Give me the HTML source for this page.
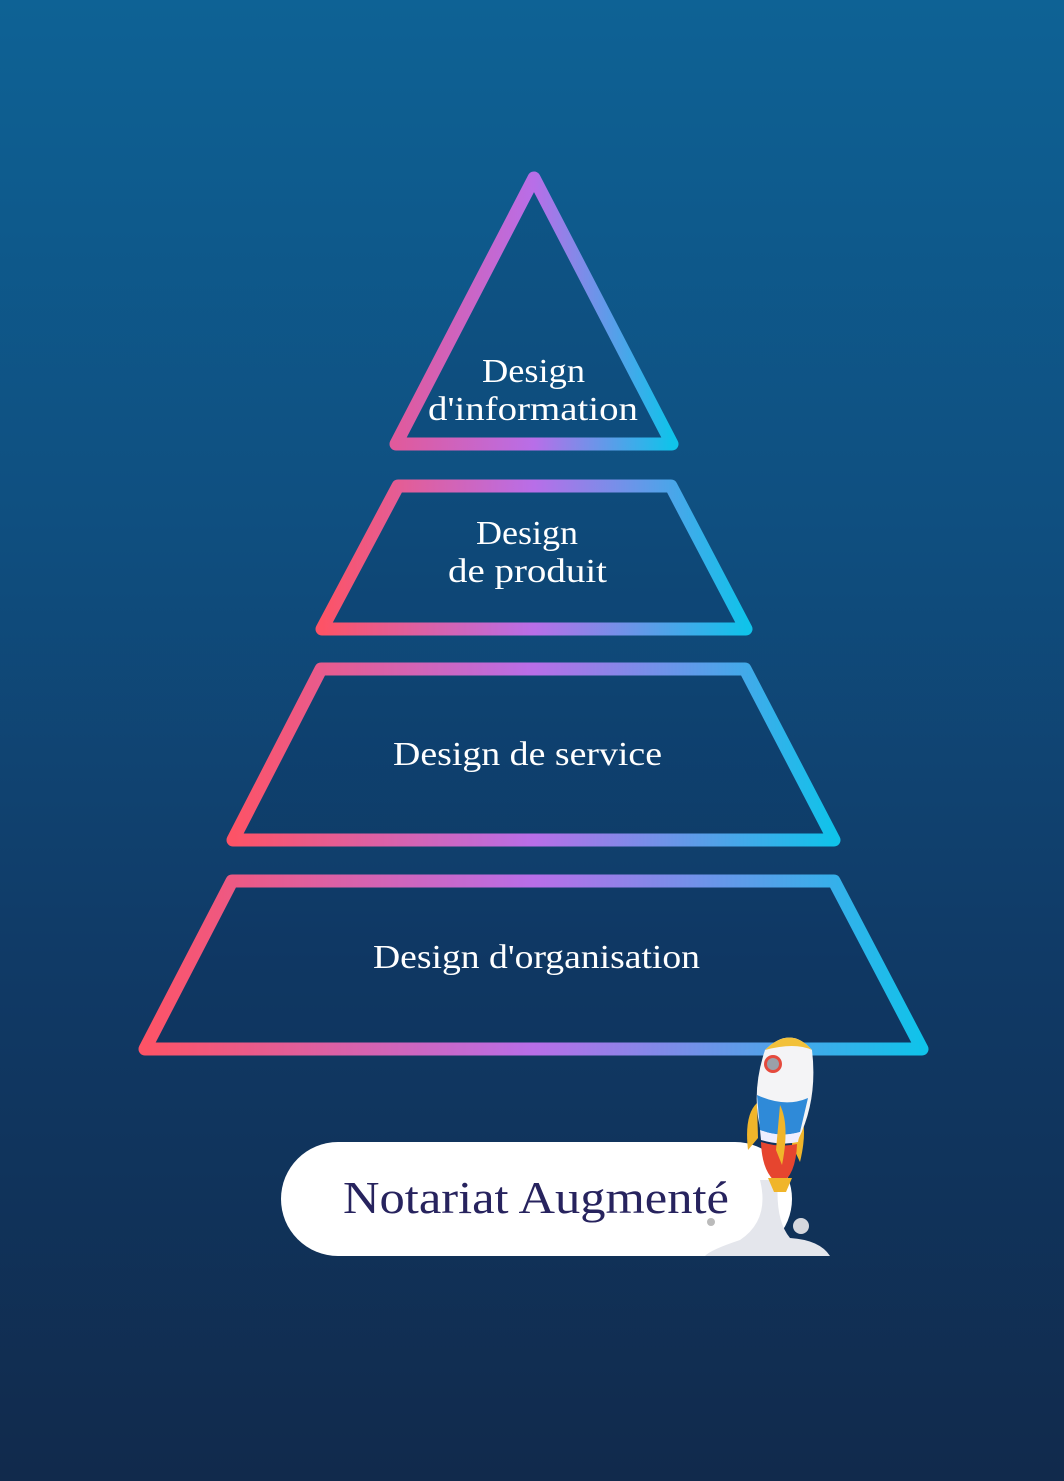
<!DOCTYPE html>
<html><head><meta charset="utf-8"><style>
html,body{margin:0;padding:0;width:1064px;height:1481px;overflow:hidden}
body{background:linear-gradient(180deg,#0e6295 0%,#0f4f80 35%,#103a66 65%,#112a4c 100%)}
svg{position:absolute;left:0;top:0}
text{font-family:"Liberation Serif",serif;fill:#fff}
</style></head><body>
<svg width="1064" height="1481" viewBox="0 0 1064 1481">
<defs>
<linearGradient id="g" x1="0" y1="0" x2="1" y2="0">
<stop offset="0" stop-color="#fd5366"/>
<stop offset="0.5" stop-color="#b86ee8"/>
<stop offset="1" stop-color="#10c3ea"/>
</linearGradient>
<linearGradient id="gt" x1="0" y1="0" x2="1" y2="0">
<stop offset="0" stop-color="#e05a9c"/>
<stop offset="0.5" stop-color="#b86ee8"/>
<stop offset="1" stop-color="#10c3ea"/>
</linearGradient>
</defs>
<g fill="rgba(10,40,80,0.12)" stroke-width="13" stroke-linejoin="round">
<polygon points="534,178 672,444 396,444" stroke="url(#gt)"/>
<polygon points="398,486 671,486 746,629 322,629" stroke="url(#g)"/>
<polygon points="321,669 745,669 834,840 233,840" stroke="url(#g)"/>
<polygon points="232,881 834,881 922,1049 145,1049" stroke="url(#g)"/>
</g>
<g font-size="34" lengthAdjust="spacingAndGlyphs">
<text x="482" y="382" textLength="103" lengthAdjust="spacingAndGlyphs">Design</text>
<text x="428" y="420" textLength="210" lengthAdjust="spacingAndGlyphs">d'information</text>
<text x="476" y="544" textLength="102" lengthAdjust="spacingAndGlyphs">Design</text>
<text x="448" y="582" textLength="159" lengthAdjust="spacingAndGlyphs">de produit</text>
<text x="393" y="765" textLength="269" lengthAdjust="spacingAndGlyphs">Design de service</text>
<text x="373" y="968" textLength="327" lengthAdjust="spacingAndGlyphs">Design d'organisation</text>
</g>
<rect x="281" y="1142" width="511" height="114" rx="57" fill="#fff"/>
<text x="343" y="1213" font-size="46" textLength="386" lengthAdjust="spacingAndGlyphs" style="fill:#27235e">Notariat Augmenté</text>
<g>
<path d="M760 1180 Q770 1220 740 1240 Q710 1250 705 1256 L830 1256 Q820 1240 790 1238 Q775 1220 778 1180 Z" fill="#e4e6ec"/>
<circle cx="801" cy="1226" r="8" fill="#d6d8de"/>
<circle cx="711" cy="1222" r="4" fill="#bbb"/>
<path d="M757 1103 Q744 1115 748 1150 L758 1138 Z" fill="#f0b52a"/>
<path d="M795 1105 Q810 1120 800 1162 L792 1145 Z" fill="#f0b52a"/>
<path d="M765 1050 Q790 1025 812 1050 Q818 1100 798 1140 L762 1135 Q750 1095 765 1050 Z" fill="#f4f4f6"/>
<path d="M765 1050 Q790 1025 812 1050 Q795 1042 765 1050 Z" fill="#f2c13a"/>
<circle cx="773" cy="1064" r="9" fill="#e54a3d"/><circle cx="773" cy="1064" r="6" fill="#9aa0a8"/>
<path d="M757 1095 Q785 1108 808 1098 L800 1132 Q780 1138 760 1130 Z" fill="#2f8ad8"/>
<path d="M760 1130 Q780 1138 800 1132 L798 1142 Q780 1146 761 1140 Z" fill="#eef"/>
<path d="M761 1142 Q780 1148 797 1144 Q796 1175 780 1185 Q762 1175 761 1142 Z" fill="#e6452f"/>
<path d="M768 1178 L792 1178 L786 1192 L774 1192 Z" fill="#f0b52a"/>
<path d="M780 1105 Q790 1125 782 1165 L776 1150 Z" fill="#f0b52a"/>
</g>
</svg>
</body></html>
